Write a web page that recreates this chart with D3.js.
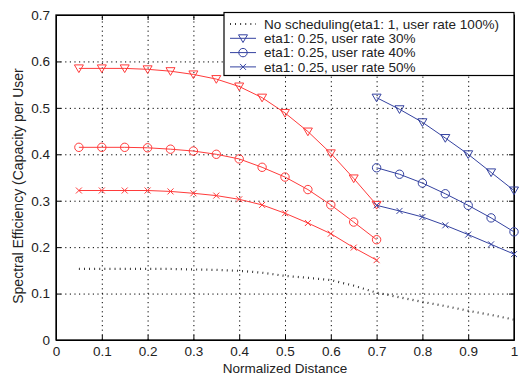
<!DOCTYPE html>
<html>
<head>
<meta charset="utf-8">
<script src="https://cdn.jsdelivr.net/npm/d3@7"></script>
<style>
	body { margin: 0; background: #fff; }
	svg { display: block; font-family: Arial, 'Liberation Sans', sans-serif; }
	.grid line { stroke: #000; stroke-width: 1; stroke-dasharray: 1.2,3.4; }
	.grid path { display: none; }
	.axis path, .axis line { stroke: #000; }
	.axis text { font-size: 13.5px; fill: #222; }
</style>
</head>
<body>
<svg id="chart" width="520" height="376"></svg>
<script>
const xTicks = [0, 0.1, 0.2, 0.3, 0.4, 0.5, 0.6, 0.7, 0.8, 0.9, 1];
const yTicks = [0, 0.1, 0.2, 0.3, 0.4, 0.5, 0.6, 0.7];

// red curves, distance 0.05 .. 0.7
const nearX = [0.05, 0.1, 0.15, 0.2, 0.25, 0.3, 0.35, 0.4, 0.45, 0.5, 0.55, 0.6, 0.65, 0.7];
const near30 = [0.585, 0.585, 0.585, 0.583, 0.579, 0.572, 0.562, 0.546, 0.522, 0.489, 0.449, 0.402, 0.348, 0.291];
const near40 = [0.415, 0.415, 0.415, 0.414, 0.411, 0.407, 0.400, 0.390, 0.372, 0.351, 0.324, 0.291, 0.254, 0.216];
const near50 = [0.322, 0.322, 0.322, 0.322, 0.320, 0.316, 0.311, 0.303, 0.291, 0.273, 0.252, 0.229, 0.199, 0.172];

// blue curves, distance 0.7 .. 1
const farX = [0.7, 0.75, 0.8, 0.85, 0.9, 0.95, 1];
const far30 = [0.522, 0.497, 0.469, 0.435, 0.400, 0.361, 0.322];
const far40 = [0.371, 0.357, 0.338, 0.315, 0.290, 0.263, 0.233];
const far50 = [0.290, 0.278, 0.265, 0.247, 0.227, 0.206, 0.185];

// no scheduling
const baseX = [0.05, 0.1, 0.15, 0.2, 0.25, 0.3, 0.35, 0.4, 0.45, 0.5, 0.55, 0.6, 0.65, 0.7, 0.75, 0.8, 0.85, 0.9, 0.95, 1];
const baseY = [0.153, 0.153, 0.153, 0.153, 0.153, 0.152, 0.151, 0.149, 0.145, 0.138, 0.134, 0.129, 0.117, 0.102, 0.092, 0.082, 0.073, 0.063, 0.054, 0.044];

const legendLabels = [
	'No scheduling(eta1: 1, user rate 100%)',
	'eta1: 0.25, user rate 30%',
	'eta1: 0.25, user rate 40%',
	'eta1: 0.25, user rate 50%'
];

const red = '#ff3b3b';
const blue = '#3442a0';

const svg = d3.select('svg#chart');
const margin = { left: 56, right: 6, top: 15, bottom: 36 };
const width = 520 - margin.left - margin.right;
const height = 376 - margin.top - margin.bottom;
const g = svg.append('g').attr('transform', `translate(${margin.left},${margin.top})`);

const x = d3.scaleLinear([0, 1], [0, width]);
const y = d3.scaleLinear([0, 0.7], [height, 0]);
const fmt = d => d === 0 ? '0' : d3.format('.1f')(d).replace(/\.0$/, '');

// grid
g.append('g').attr('class', 'grid')
	.attr('transform', `translate(0,${height})`)
	.call(d3.axisBottom(x).tickValues(xTicks).tickSize(-height).tickFormat(''));
g.append('g').attr('class', 'grid')
	.call(d3.axisLeft(y).tickValues(yTicks).tickSize(-width).tickFormat(''));

// axes with inward ticks on all four sides
g.append('g').attr('class', 'axis')
	.attr('transform', `translate(0,${height})`)
	.call(d3.axisBottom(x).tickValues(xTicks).tickSizeInner(-5).tickSizeOuter(0).tickPadding(6.5).tickFormat(fmt));
g.append('g').attr('class', 'axis')
	.call(d3.axisLeft(y).tickValues(yTicks).tickSizeInner(-5).tickSizeOuter(0).tickPadding(6).tickFormat(fmt));
g.append('g').attr('class', 'axis')
	.call(d3.axisTop(x).tickValues(xTicks).tickSizeInner(-5).tickSizeOuter(0).tickFormat(''));
g.append('g').attr('class', 'axis')
	.attr('transform', `translate(${width},0)`)
	.call(d3.axisRight(y).tickValues(yTicks).tickSizeInner(-5).tickSizeOuter(0).tickFormat(''));
g.append('rect')
	.attr('width', width).attr('height', height)
	.attr('fill', 'none').attr('stroke', '#000').attr('stroke-width', 1.3);

const line = d3.line().x(d => x(d[0])).y(d => y(d[1]));

// marker shapes
const marker = {
	tri: (sel, c) => sel.append('path').attr('d', 'M-4.5,-3.5L4.5,-3.5L0,4.2Z')
		.attr('fill', 'none').attr('stroke', c),
	circ: (sel, c) => sel.append('circle').attr('r', 4.2)
		.attr('fill', 'none').attr('stroke', c),
	cross: (sel, c) => sel.append('path').attr('d', 'M-3,-3L3,3M-3,3L3,-3')
		.attr('fill', 'none').attr('stroke', c)
};

function drawSeries (xs, ys, color, shape) {
	const pts = xs.map((d, i) => [d, ys[i]]);
	g.append('path').datum(pts).attr('d', line)
		.attr('fill', 'none').attr('stroke', color).attr('stroke-width', 1);
	g.selectAll(null).data(pts).enter().append('g')
		.attr('transform', d => `translate(${x(d[0])},${y(d[1])})`)
		.each(function () { marker[shape](d3.select(this), color); });
}

// no scheduling, dotted
g.append('path').datum(baseX.map((d, i) => [d, baseY[i]])).attr('d', line)
	.attr('fill', 'none').attr('stroke', '#222').attr('stroke-width', 2.2)
	.attr('stroke-dasharray', '0.9,4.2');

drawSeries(nearX, near30, red, 'tri');
drawSeries(nearX, near40, red, 'circ');
drawSeries(nearX, near50, red, 'cross');
drawSeries(farX, far30, blue, 'tri');
drawSeries(farX, far40, blue, 'circ');
drawSeries(farX, far50, blue, 'cross');

// legend
const lg = svg.append('g').attr('transform', 'translate(224,12.5)');
lg.append('rect').attr('width', 290).attr('height', 63)
	.attr('fill', '#fff').attr('stroke', '#000').attr('stroke-width', 1.2);
const shapes = [null, 'tri', 'circ', 'cross'];
legendLabels.forEach((t, i) => {
	const row = lg.append('g').attr('transform', `translate(0,${11.5 + i * 14.3})`);
	if (i === 0) {
		row.append('line').attr('x1', 6).attr('x2', 32).attr('y1', 0).attr('y2', 0)
			.attr('stroke', '#222').attr('stroke-width', 2.2).attr('stroke-dasharray', '0.9,4.2');
	} else {
		row.append('line').attr('x1', 6).attr('x2', 32).attr('y1', 0).attr('y2', 0)
			.attr('stroke', blue);
		marker[shapes[i]](row.append('g').attr('transform', 'translate(19,0)'), blue);
	}
	row.append('text').attr('x', 40).attr('y', 4.8)
		.attr('font-size', '13.5px').attr('fill', '#222').text(t);
});

// axis titles
svg.append('text')
	.attr('x', margin.left + width / 2).attr('y', 373)
	.attr('text-anchor', 'middle').attr('font-size', '13.5px').attr('fill', '#222')
	.text('Normalized Distance');
svg.append('text')
	.attr('transform', 'translate(23,186) rotate(-90)')
	.attr('text-anchor', 'middle').attr('font-size', '14px').attr('fill', '#222')
	.text('Spectral Efficiency (Capacity per User');
</script>
</body>
</html>
